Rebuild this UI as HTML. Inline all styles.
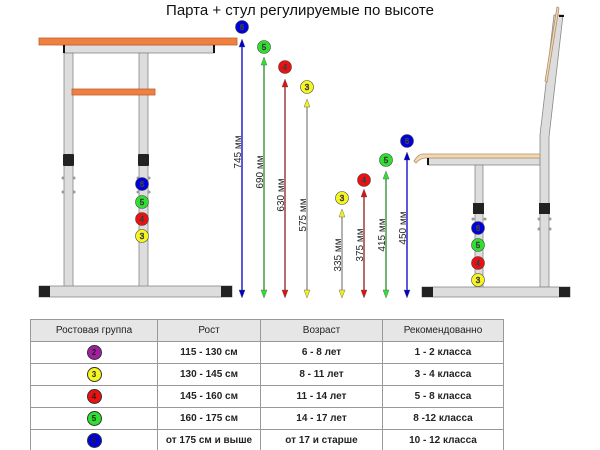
<!DOCTYPE html>
<html><head><meta charset="utf-8"><style>
html,body{margin:0;padding:0;background:#fff;}
svg{display:block;font-family:"Liberation Sans",sans-serif;}
table{position:absolute;left:30px;top:319px;border-collapse:collapse;font-family:"Liberation Sans",sans-serif;font-size:10px;font-weight:bold;color:#222;}
td{border:1px solid #999;text-align:center;height:21px;padding:0;}
tr:first-child td{background:#e6e6e6;font-weight:normal;}
.b{display:inline-block;width:13px;height:13px;border-radius:50%;border:1px solid #333;font-size:8px;line-height:13px;vertical-align:middle;}
</style></head><body>
<div style="position:relative;width:600px;height:450px;overflow:hidden">
<svg width="600" height="450" viewBox="0 0 600 450">
<defs>
<marker id="a" markerWidth="6" markerHeight="10" refX="3" refY="0" orient="auto" markerUnits="userSpaceOnUse"/>
</defs>
<text x="300" y="15" font-size="15" text-anchor="middle" fill="#111">Парта + стул регулируемые по высоте</text>
<!-- desk -->
<g stroke="#888" stroke-width="0.8">
<rect x="64" y="45" width="150" height="8" fill="#ddd"/>
<rect x="64" y="53" width="9" height="234" fill="#ddd"/>
<rect x="139" y="53" width="9" height="234" fill="#ddd"/>
<rect x="39" y="38" width="198" height="7" fill="#f08040" stroke="#c06030"/>
<rect x="72" y="89" width="83" height="6" fill="#f08040" stroke="#c06030"/>
<rect x="39" y="286" width="193" height="11" fill="#ddd"/>
</g>
<rect x="63" y="45" width="2" height="8" fill="#111"/><rect x="213" y="45" width="2" height="8" fill="#111"/>
<rect x="63" y="154" width="11" height="12" fill="#222" rx="1"/>
<rect x="138" y="154" width="11" height="12" fill="#222" rx="1"/>
<rect x="39" y="286" width="11" height="11" fill="#222"/><rect x="221" y="286" width="11" height="11" fill="#222"/>
<g fill="#999"><circle cx="63" cy="178" r="1.5"/><circle cx="74" cy="178" r="1.5"/><circle cx="63" cy="192" r="1.5"/><circle cx="74" cy="192" r="1.5"/>
<circle cx="138" cy="178" r="1.5"/><circle cx="149" cy="178" r="1.5"/><circle cx="138" cy="192" r="1.5"/><circle cx="149" cy="192" r="1.5"/></g>
<!-- chair -->
<g stroke="#888" stroke-width="0.8">
<rect x="428" y="158" width="112" height="7" fill="#ddd"/>
<rect x="475" y="165" width="8" height="122" fill="#ddd"/>
<path d="M540 287 L540 135 L554 15 L563 15 L549 137 L549 287 Z" fill="#ddd"/>
<path d="M423 154 L540 154 L540 158 L425 158 Q419 159 416 163 L414 161 Q418 154 423 154 Z" fill="#f2d8b0" stroke="#b09070"/>
<path d="M557 7 L559 8 L547 82 L545 81 Z" fill="#f2d8b0" stroke="#b09070"/>
<rect x="422" y="287" width="148" height="10" fill="#ddd"/>
</g>
<rect x="427" y="158" width="2" height="7" fill="#111"/>
<rect x="559" y="15" width="5" height="2" fill="#111"/>
<rect x="473" y="203" width="11" height="11" fill="#222"/>
<rect x="539" y="203" width="11" height="11" fill="#222"/>
<rect x="422" y="287" width="11" height="10" fill="#222"/><rect x="559" y="287" width="11" height="10" fill="#222"/>
<g fill="#999"><circle cx="473" cy="219" r="1.5"/><circle cx="485" cy="219" r="1.5"/><circle cx="539" cy="219" r="1.5"/><circle cx="550" cy="219" r="1.5"/><circle cx="539" cy="229" r="1.5"/><circle cx="550" cy="229" r="1.5"/></g>
<!-- arrows -->
<g stroke-width="1.3">
<line x1="242" y1="44" x2="242" y2="293" stroke="#0000cc"/>
<line x1="264" y1="62" x2="264" y2="293" stroke="#2a8a2a"/>
<line x1="285" y1="84" x2="285" y2="293" stroke="#8b2020"/>
<line x1="307" y1="104" x2="307" y2="293" stroke="#888"/>
<line x1="342" y1="214" x2="342" y2="293" stroke="#888"/>
<line x1="364" y1="194" x2="364" y2="293" stroke="#8b2020"/>
<line x1="386" y1="176" x2="386" y2="293" stroke="#2a8a2a"/>
<line x1="407" y1="157" x2="407" y2="293" stroke="#0000cc"/>
</g>
<g stroke="#555" stroke-width="0.4">
<path d="M242 39 l-3 8 h6z M242 298 l-3 -8 h6z" fill="#0000cc"/>
<path d="M264 57 l-3 8 h6z M264 298 l-3 -8 h6z" fill="#30e030"/>
<path d="M285 79 l-3 8 h6z M285 298 l-3 -8 h6z" fill="#e01010"/>
<path d="M307 99 l-3 8 h6z M307 298 l-3 -8 h6z" fill="#f0f020"/>
<path d="M342 209 l-3 8 h6z M342 298 l-3 -8 h6z" fill="#f0f020"/>
<path d="M364 189 l-3 8 h6z M364 298 l-3 -8 h6z" fill="#e01010"/>
<path d="M386 171 l-3 8 h6z M386 298 l-3 -8 h6z" fill="#30e030"/>
<path d="M407 152 l-3 8 h6z M407 298 l-3 -8 h6z" fill="#0000cc"/>
</g>
<g font-size="10" fill="#222" text-anchor="middle">
<text transform="translate(241,152) rotate(-90)">745 мм</text>
<text transform="translate(263,172) rotate(-90)">690 мм</text>
<text transform="translate(284,195) rotate(-90)">630 мм</text>
<text transform="translate(306,215) rotate(-90)">575 мм</text>
<text transform="translate(341,255) rotate(-90)">335 мм</text>
<text transform="translate(363,245) rotate(-90)">375 мм</text>
<text transform="translate(385,235) rotate(-90)">415 мм</text>
<text transform="translate(406,228) rotate(-90)">450 мм</text>
</g>
<!-- balls -->
<g stroke="#444" stroke-width="0.6" font-size="8" text-anchor="middle">
<circle cx="242" cy="27" r="6.5" fill="#0000dd"/><text x="242" y="30" fill="#000">6</text>
<circle cx="264" cy="47" r="6.5" fill="#30e030"/><text x="264" y="50" fill="#000">5</text>
<circle cx="285" cy="67" r="6.5" fill="#ee1010"/><text x="285" y="70" fill="#000">4</text>
<circle cx="307" cy="87" r="6.5" fill="#f5f520"/><text x="307" y="90" fill="#000">3</text>
<circle cx="342" cy="198" r="6.5" fill="#f5f520"/><text x="342" y="201" fill="#000">3</text>
<circle cx="364" cy="180" r="6.5" fill="#ee1010"/><text x="364" y="183" fill="#000">4</text>
<circle cx="386" cy="160" r="6.5" fill="#30e030"/><text x="386" y="163" fill="#000">5</text>
<circle cx="407" cy="141" r="6.5" fill="#0000dd"/><text x="407" y="144" fill="#000">6</text>
<circle cx="142" cy="184" r="6.5" fill="#0000dd"/><text x="142" y="187" fill="#000">6</text>
<circle cx="142" cy="202" r="6.5" fill="#30e030"/><text x="142" y="205" fill="#000">5</text>
<circle cx="142" cy="219" r="6.5" fill="#ee1010"/><text x="142" y="222" fill="#000">4</text>
<circle cx="142" cy="236" r="6.5" fill="#f5f520"/><text x="142" y="239" fill="#000">3</text>
<circle cx="478" cy="228" r="6.5" fill="#0000dd"/><text x="478" y="231" fill="#000">6</text>
<circle cx="478" cy="245" r="6.5" fill="#30e030"/><text x="478" y="248" fill="#000">5</text>
<circle cx="478" cy="263" r="6.5" fill="#ee1010"/><text x="478" y="266" fill="#000">4</text>
<circle cx="478" cy="280" r="6.5" fill="#f5f520"/><text x="478" y="283" fill="#000">3</text>
</g>
</svg>
<table>
<tr><td style="width:126px">Ростовая группа</td><td style="width:102px">Рост</td><td style="width:121px">Возраст</td><td style="width:120px">Рекомендованно</td></tr>
<tr><td><span class="b" style="background:#a020a0">2</span></td><td>115 - 130 см</td><td>6 - 8 лет</td><td>1 - 2 класса</td></tr>
<tr><td><span class="b" style="background:#f5f520">3</span></td><td>130 - 145 см</td><td>8 - 11 лет</td><td>3 - 4 класса</td></tr>
<tr><td><span class="b" style="background:#ee1010">4</span></td><td>145 - 160 см</td><td>11 - 14 лет</td><td>5 - 8 класса</td></tr>
<tr><td><span class="b" style="background:#30e030">5</span></td><td>160 - 175 см</td><td>14 - 17 лет</td><td>8 -12 класса</td></tr>
<tr><td><span class="b" style="background:#0000dd">6</span></td><td>от 175 см и выше</td><td>от 17 и старше</td><td>10 - 12 класса</td></tr>
</table>
</div>
</body></html>
